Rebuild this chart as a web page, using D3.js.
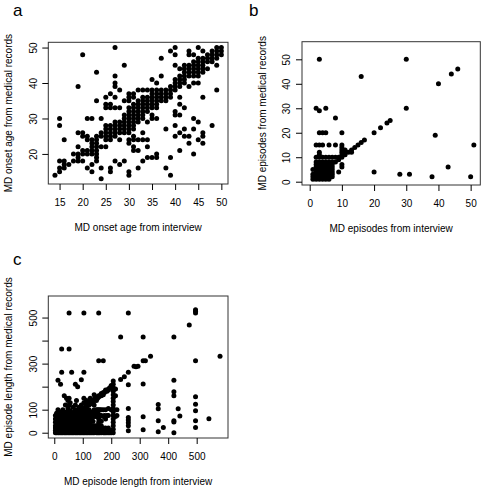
<!DOCTYPE html>
<html><head><meta charset="utf-8">
<script src="https://cdn.jsdelivr.net/npm/d3@7"></script>
<style>
body{margin:0;background:#fff}
text{font-family:"Liberation Sans",Arial,Helvetica,sans-serif;fill:#000}
</style>
</head><body>
<svg id="chart" width="484" height="489"></svg>
<script>
// ---------- Panel a: MD onset age ----------
const aInterview = [14,15,16,17,18,19,20,21,22,23,24,25,26,27,28,29,30,31,32,33,34,35,36,37,38,39,40,41,42,43,44,45,46,47,48,49,50];
const aRecords = [
[14],
[30,28,18,16,15],
[24,18,17,16],
[17],
[20,18],
[39,26,22,20,19,18],
[48,26,25,21,20,18],
[30,25,24,21,20,16],
[30,24,23,22,21,20,17,15],
[43,35,25,24,23,22,21,20,19,18],
[30,26,25,22,16,13],
[36,34,33,28,27,26,25,24,22],
[37,34,33,28,27,26,25,24,16,15],
[50,42,40,39,36,33,29,28,27,26,25,18],
[38,33,29,28,27,26,24,17],
[45,35,31,30,29,28,27,26,18],
[37,36,35,33,32,31,30,29,28,27,26,24,23,15,14],
[37,36,34,33,32,31,30,29,28,27,25,24,22,21],
[38,35,34,33,32,31,30,29,24,21,16],
[38,36,35,34,33,32,31,30,26,24,18],
[38,36,35,34,33,32,29,24,22,19],
[41,38,37,36,35,34,33,31,30,19],
[40,38,37,36,35,34,33,30,20,19],
[47,42,38,37,36,35],
[38,37,36,35,27,16],
[49,39,38,37,36,19,14],
[50,48,45,41,40,39,38,32,31,28,25],
[44,42,41,40,39,36,34,31,26,21],
[45,44,43,42,41,40,33,27,25],
[49,48,45,44,43,42,39,25,23],
[48,46,45,44,43,42,40,30,27,20],
[50,47,46,45,44,43,42,40,29,24],
[49,47,46,45,44,43,36,26,25,23],
[48,47,46,44],
[49,48,47,46,28],
[50,49,48,47,45,38],
[50,49,48]
];
const aXTicks = [15,20,25,30,35,40,45,50];
const aYTicks = [20,30,40,50];

// ---------- Panel b: MD episodes ----------
const bInterview = [1,2,3,4,5,6,7,8,9,10,11,12,13,14,15,16,17,20,22,24,25,28,30,31,38,39,40,43,44,46,50,51];
const bRecords = [
[1,2,3,5],
[1,2,3,4,5,6,7,8,10,15,30],
[1,2,3,4,5,6,7,8,10,11,12,15,20,29,50],
[1,2,3,4,5,6,7,8,10,15,20],
[1,2,3,4,5,6,7,8,10,20,30],
[1,2,3,4,5,6,7,8,10,15],
[2,3,4,5,6,7,8,10],
[8,10,15,26],
[4,9,10],
[6,7,10,11,12,13,14,15,20],
[11,12,13],
[12],
[12,13],
[14],
[15],
[16,43],
[17],
[4,20],
[22],
[24],
[25],
[3],
[30,50],
[3],
[2],
[19],
[40],
[6],
[44],
[46],
[2],
[15]
];
const bXTicks = [0,10,20,30,40,50];
const bYTicks = [0,10,20,30,40,50];

// ---------- Panel c: MD episode length ----------
const cInterview = [4,8,13,17,22,26,30,35,39,43,48,52,56,61,65,69,74,78,82,87,91,95,100,104,108,113,117,122,126,131,136,140,148,152,156,160,165,172,176,180,185,190,195,200,207,215,220,233,246,260,280,287,294,312,320,338,365,383,420,435,441,474,496,543,582];
const cRecords = [
[0,10,20,30,45,60,75],
[0,15,30,50,70,85],
[0,10,25,40,60,80,100,228],
[0,20,35,55,70],
[0,10,30,45,65,90,210],
[0,20,40,60,80,263,364],
[0,12,30,50,70,100],
[0,25,45,65,85,160],
[0,10,30,55,75,120],
[0,20,40,60,90,150],
[0,12,35,50,70,105,140],
[0,25,45,65,80,120,150,364,520],
[0,10,30,55,75,95,130],
[0,20,40,60,85,263],
[0,12,35,50,70,110],
[0,25,45,65,90],
[0,10,30,55,75,100,120,210],
[0,20,40,60,85,140],
[0,12,35,50,70,95,200],
[0,25,45,65,80,110],
[0,10,30,55,75,100],
[0,20,40,60,90,120,230],
[0,12,35,50,70,85,100,105],
[0,25,45,65,80,105,130,150,263,520],
[0,10,30,55,75,100,110],
[0,20,40,60,85,110,115,140],
[0,30,50,70,90,120,125],
[0,20,45,65,80,100,120,130],
[0,10,35,55,75,125,135,150],
[0,25,50,70,90,130,140],
[0,15,30,50,70,135],
[0,10,20,30,70,85,100,120,140,145,165],
[0,10,20,30,70,80,100,140,150,155],
[0,20,30,70,100,150],
[0,10,20,30,45,60,70,80,100,155,160,312,520],
[0,20,75,100,160],
[0,10,20,30,50,75,100,160,170],
[0,10,20,70,100,165,175,312],
[0,75,175],
[0,10,20,60,100,180,185],
[0,75,180],
[0,10,20,75,105,185,190],
[0,195],
[0,10,100,195,200,205],
[0,15,30,45,60,75,90,105,120,135,150,165,180,195,210,225],
[70,160,190],
[75,100],
[231,416],
[243],
[9,30,43,55,66,105,208,263,520],
[289],
[286],
[289],
[13,69,211,312,416],
[312],
[332],
[4,52,104,123],
[23],
[0,46,52,160,178,228,416],
[104],
[72],
[468],
[23,52,95,124,156,312,520,527,534],
[61],
[332]
];
const cXTicks = [0,100,200,300,400,500];
const cYTicks = [0,100,200,300,400,500];
const cYLabelled = [0,100,300,500];

function pairs(xs, ys){
  const out = [];
  xs.forEach((x,i)=>ys[i].forEach(y=>out.push([x,y])));
  return out;
}

const svg = d3.select("#chart");

function panel(cfg){
  const g = svg.append("g");
  const x = d3.scaleLinear().domain(cfg.xDomain).range([cfg.l, cfg.r]);
  const y = d3.scaleLinear().domain(cfg.yDomain).range([cfg.b, cfg.t]);

  g.append("g").selectAll("circle").data(cfg.points).join("circle")
    .attr("cx", d=>x(d[0])).attr("cy", d=>y(d[1])).attr("r", 2.5).attr("fill","#000");

  g.append("rect").attr("x", cfg.l).attr("y", cfg.t)
    .attr("width", cfg.r-cfg.l).attr("height", cfg.b-cfg.t)
    .attr("fill","none").attr("stroke","#333").attr("stroke-width",1);

  const xa = g.append("g").attr("transform",`translate(0,${cfg.b})`)
    .call(d3.axisBottom(x).tickValues(cfg.xTicks).tickSize(6).tickSizeOuter(0).tickPadding(9));
  xa.select(".domain").remove();
  xa.selectAll("text").attr("font-size",10).attr("font-family","Liberation Sans, Arial, sans-serif");
  xa.selectAll("line").attr("stroke","#000");

  const ya = g.append("g").attr("transform",`translate(${cfg.l},0)`)
    .call(d3.axisLeft(y).tickValues(cfg.yTicks).tickSize(6).tickSizeOuter(0)
      .tickFormat(v => cfg.yLabelled.includes(v) ? String(v) : ""));
  ya.select(".domain").remove();
  ya.selectAll("line").attr("stroke","#000");
  ya.selectAll("text")
    .attr("transform","rotate(-90)")
    .attr("x",0).attr("y",-cfg.yLabOff).attr("dy","0")
    .attr("text-anchor","middle")
    .attr("font-size",10).attr("font-family","Liberation Sans, Arial, sans-serif");

  g.append("text").attr("x",(cfg.l+cfg.r)/2).attr("y",cfg.b+46.5)
    .attr("text-anchor","middle").attr("font-size",10).text(cfg.xTitle);
  g.append("text").attr("transform",`translate(${cfg.l-36.5},${(cfg.t+cfg.b)/2}) rotate(-90)`)
    .attr("text-anchor","middle").attr("font-size",10).text(cfg.yTitle);

  g.append("text").attr("x",cfg.letterX).attr("y",cfg.letterY)
    .attr("font-size",17).text(cfg.letter);
}

panel({
  letter:"a", letterX:13, letterY:16,
  l:48.3, r:228, t:42.3, b:184,
  xDomain:[12.56,51.44], yDomain:[11.52,51.48],
  xTicks:aXTicks, yTicks:aYTicks, yLabelled:aYTicks, yLabOff:11.6,
  points:pairs(aInterview,aRecords),
  xTitle:"MD onset age from interview", yTitle:"MD onset age from medical records"
});
panel({
  letter:"b", letterX:249, letterY:16,
  l:302, r:480.3, t:41.7, b:185,
  xDomain:[-2.39,53.0], yDomain:[-1.35,57.2],
  xTicks:bXTicks, yTicks:bYTicks, yLabelled:bYTicks, yLabOff:12.5,
  points:pairs(bInterview,bRecords),
  xTitle:"MD episodes from interview", yTitle:"MD episodes from medical records"
});
panel({
  letter:"c", letterX:13, letterY:265,
  l:48.3, r:228, t:296, b:438,
  xDomain:[-21,610], yDomain:[-23,593.6],
  xTicks:cXTicks, yTicks:cYTicks, yLabelled:cYLabelled, yLabOff:11.6,
  points:pairs(cInterview,cRecords),
  xTitle:"MD episode length from interview", yTitle:"MD episode length from medical records"
});
</script>
</body></html>
